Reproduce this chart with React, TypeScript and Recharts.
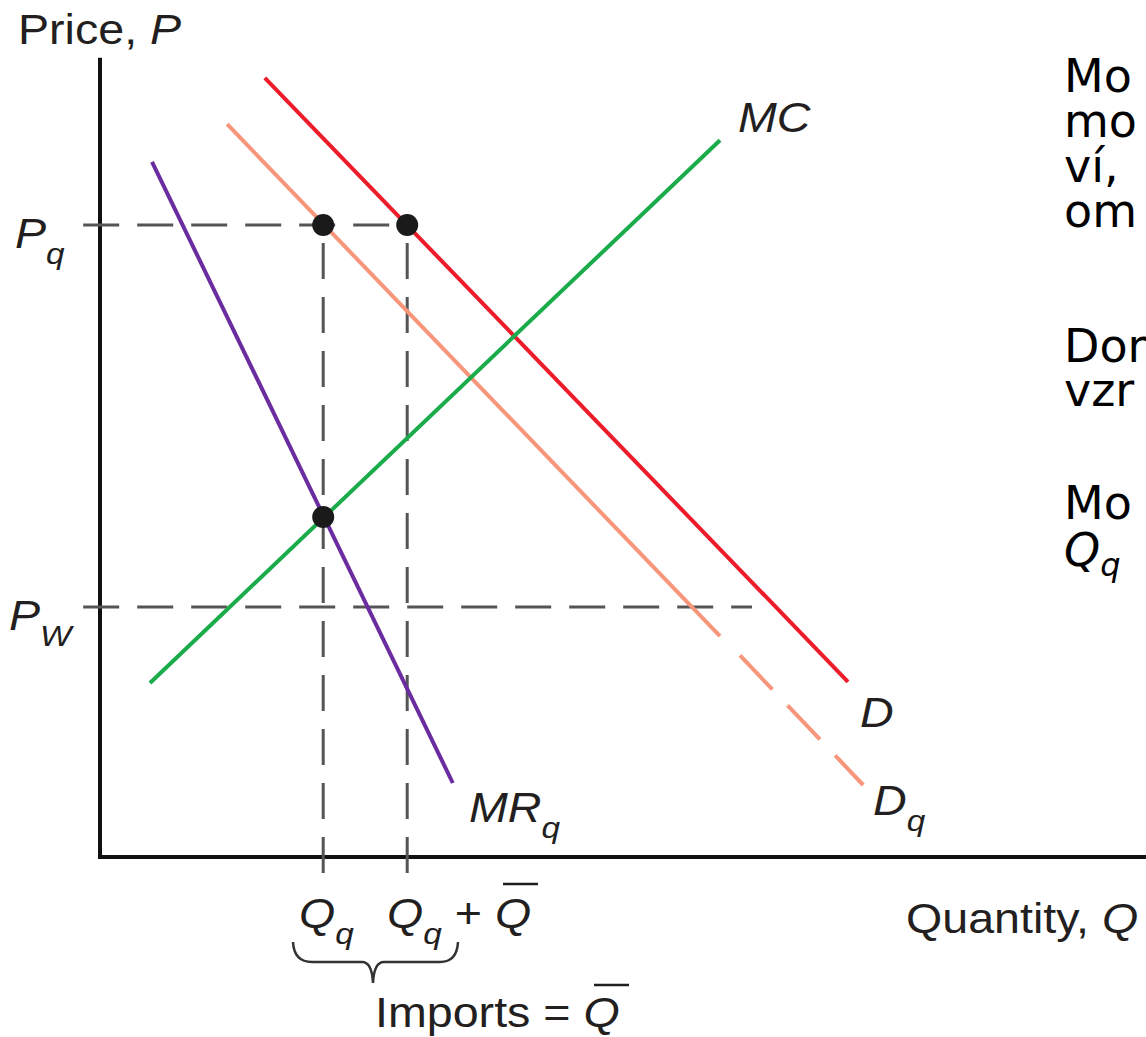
import {
  ComposedChart,
  Line,
  ReferenceLine,
  Scatter,
  XAxis,
  YAxis,
} from 'recharts';

// economic units: quantity q, price p
const P_Q = 79;
const P_W = 31.25;
const Q_Q = 27.9;
const Q_Q_BAR = 38.4;
const MC_AT_QQ = 42.5;

const demand = [
  { q: 20.6, p: 97.4 },
  { q: 93.5, p: 21.9 },
];
const demandQuota = [
  { q: 15.9, p: 91.6 },
  { q: 77.5, p: 27.6 },
];
const demandQuotaDashed = [
  { q: 80.0, p: 25.2 },
  { q: 95.4, p: 9.0 },
];
const marginalCost = [
  { q: 6.25, p: 21.75 },
  { q: 77.5, p: 89.6 },
];
const marginalRevenue = [
  { q: 6.5, p: 86.9 },
  { q: 44.1, p: 9.25 },
];
const points = [
  { q: Q_Q, p: P_Q },
  { q: Q_Q_BAR, p: P_Q },
  { q: Q_Q, p: MC_AT_QQ },
];
const guidePq = [
  { q: -2.1, p: P_Q },
  { q: Q_Q_BAR, p: P_Q },
];
const guidePw = [
  { q: -2.1, p: P_W },
  { q: 81.5, p: P_W },
];
const guideQq = [
  { q: Q_Q, p: -2 },
  { q: Q_Q, p: P_Q },
];
const guideQqBar = [
  { q: Q_Q_BAR, p: -2 },
  { q: Q_Q_BAR, p: P_Q },
];

// slide text on the right, cut by the page edge
const sideText = ['Mo', 'mo', 'ví,', 'om', 'Dom', 'vzr', 'Mo'];
const sideY = [92, 137, 182, 227, 362, 406, 519];

const W = 1146;
const H = 1037;
const INK = '#231f20';
const GUIDE = '#555555';
const FONT = "'Liberation Sans', Arial, sans-serif";
const SIDE_FONT = "'DejaVu Sans', Verdana, sans-serif";

function Lbl({ x, y, children, size = 42 }: any) {
  return (
    <text
      transform={`translate(${x},${y}) scale(1.11,1)`}
      fontFamily={FONT}
      fontSize={size}
      fill={INK}
    >
      {children}
    </text>
  );
}

function Dot(props: any) {
  return <circle cx={props.cx} cy={props.cy} r={11} fill="#1a1a1a" />;
}

export default function App() {
  const guide = {
    stroke: GUIDE,
    strokeWidth: 3,
    strokeDasharray: '36 18',
    dot: false,
    activeDot: false,
    isAnimationActive: false,
    type: 'linear' as const,
    dataKey: 'p',
  };
  const curve = {
    strokeWidth: 4,
    dot: false,
    activeDot: false,
    isAnimationActive: false,
    type: 'linear' as const,
    dataKey: 'p',
  };

  return (
    <div
      style={{
        position: 'absolute',
        left: 0,
        top: 0,
        width: W,
        height: H,
        overflow: 'hidden',
        background: '#fff',
      }}
    >
      <ComposedChart
        width={W}
        height={H}
        margin={{ top: 0, right: 0, bottom: 0, left: 0 }}
      >
        <XAxis
          type="number"
          dataKey="q"
          domain={[-12.5, 130.75]}
          allowDataOverflow
          hide
        />
        <YAxis
          type="number"
          dataKey="p"
          domain={[-22.5, 107.125]}
          allowDataOverflow
          hide
        />
        <ReferenceLine
          segment={[
            { x: 0, y: -0.25 },
            { x: 0, y: 99.9 },
          ]}
          stroke="#111"
          strokeWidth={4}
        />
        <ReferenceLine
          segment={[
            { x: -0.25, y: 0 },
            { x: 130.75, y: 0 },
          ]}
          stroke="#111"
          strokeWidth={4}
        />
        <Line data={guidePq} {...guide} />
        <Line data={guidePw} {...guide} />
        <Line data={guideQq} {...guide} />
        <Line data={guideQqBar} {...guide} />
        <Line data={demandQuota} stroke="#f7967b" {...curve} />
        <Line
          data={demandQuotaDashed}
          stroke="#f7967b"
          strokeDasharray="47 22"
          {...curve}
        />
        <Line data={demand} stroke="#ec1c2a" {...curve} />
        <Line data={marginalCost} stroke="#1aab4b" {...curve} />
        <Line data={marginalRevenue} stroke="#6a2c9e" {...curve} />
        <Scatter data={points} shape={Dot} isAnimationActive={false} />
      </ComposedChart>

      <svg
        width={W}
        height={H}
        style={{ position: 'absolute', left: 0, top: 0, pointerEvents: 'none' }}
      >
        <Lbl x={18} y={44}>
          Price, <tspan fontStyle="italic">P</tspan>
        </Lbl>
        <Lbl x={15} y={248}>
          <tspan fontStyle="italic">P</tspan>
          <tspan fontStyle="italic" fontSize={30} dy={16}>q</tspan>
        </Lbl>
        <Lbl x={9} y={630}>
          <tspan fontStyle="italic">P</tspan>
          <tspan fontStyle="italic" fontSize={30} dy={16}>W</tspan>
        </Lbl>
        <Lbl x={738} y={132}>
          <tspan fontStyle="italic">MC</tspan>
        </Lbl>
        <Lbl x={860} y={727}>
          <tspan fontStyle="italic">D</tspan>
        </Lbl>
        <Lbl x={873} y={815}>
          <tspan fontStyle="italic">D</tspan>
          <tspan fontStyle="italic" fontSize={30} dy={16}>q</tspan>
        </Lbl>
        <Lbl x={469} y={822}>
          <tspan fontStyle="italic">MR</tspan>
          <tspan fontStyle="italic" fontSize={30} dy={16}>q</tspan>
        </Lbl>
        <Lbl x={299} y={928}>
          <tspan fontStyle="italic">Q</tspan>
          <tspan fontStyle="italic" fontSize={30} dy={16}>q</tspan>
        </Lbl>
        <Lbl x={387} y={928}>
          <tspan fontStyle="italic">Q</tspan>
          <tspan fontStyle="italic" fontSize={30} dy={16}>q</tspan>
          <tspan dy={-16}> + </tspan>
          <tspan fontStyle="italic">Q</tspan>
        </Lbl>
        <line x1={503} x2={538} y1={884} y2={884} stroke={INK} strokeWidth={2.5} />
        <path
          d="M293,942 Q294,962 312,962 L362,962 Q372,962 373,983 Q374,962 384,962 L440,962 Q457,962 458,942"
          fill="none"
          stroke="#333"
          strokeWidth={2.5}
        />
        <Lbl x={375} y={1027}>
          Imports = <tspan fontStyle="italic">Q</tspan>
        </Lbl>
        <line x1={594} x2={629} y1={985} y2={985} stroke={INK} strokeWidth={2.5} />
        <Lbl x={906} y={933}>
          Quantity, <tspan fontStyle="italic">Q</tspan>
        </Lbl>

        {sideText.map((t, i) => (
          <text
            key={i}
            x={1064}
            y={sideY[i]}
            fontFamily={SIDE_FONT}
            fontSize={46}
            fill="#000"
          >
            {t}
          </text>
        ))}
        <text x={1064} y={566} fontFamily={SIDE_FONT} fontSize={46} fill="#000">
          <tspan fontStyle="italic">Q</tspan>
          <tspan fontStyle="italic" fontSize={32} dy={10}>q</tspan>
        </text>
      </svg>
    </div>
  );
}
